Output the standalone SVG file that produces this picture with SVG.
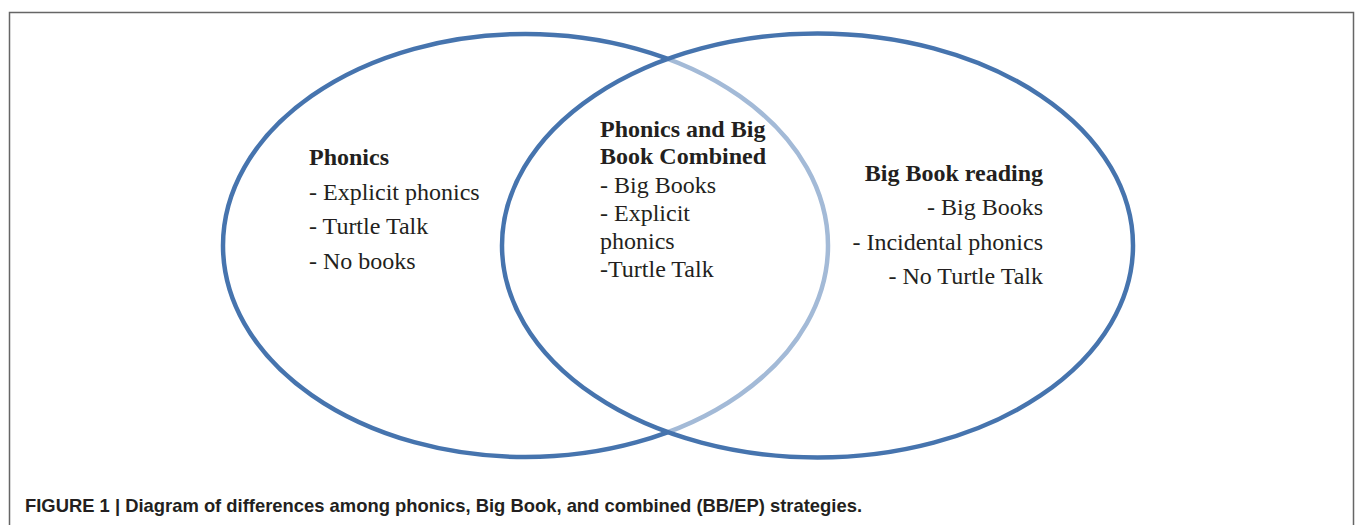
<svg xmlns="http://www.w3.org/2000/svg" width="1355" height="525" viewBox="0 0 1355 525">
<style>
.ring{stroke:#4674ae;stroke-width:4.5}
.t{font-family:"Liberation Serif","Times New Roman",serif;font-size:24px;fill:#231f20}
.b{font-weight:bold}
.cap{font-family:"Liberation Sans Narrow","Liberation Sans",Arial,sans-serif;font-size:19px;font-weight:bold;fill:#231f20}
</style>
<rect width="1355" height="525" fill="#fff"/>
<path d="M9.5,530 V12.5 H1353.5 V530" fill="none" stroke="#666" stroke-width="1.5"/>
<g id="phonics">
<ellipse class="ring" cx="525.5" cy="245.5" rx="302.5" ry="211.5" fill="none"/>
<text class="t b" x="309" y="165">Phonics</text>
<text class="t" x="309" y="200">- Explicit phonics</text>
<text class="t" x="309" y="234">- Turtle Talk</text>
<text class="t" x="309" y="269">- No books</text>
</g>
<g id="bigbook">
<ellipse class="ring" cx="817.5" cy="245.5" rx="315.5" ry="212" fill="#fff" fill-opacity="0.5"/>
<text class="t b" x="1043" y="181" text-anchor="end">Big Book reading</text>
<text class="t" x="1043" y="215" text-anchor="end">- Big Books</text>
<text class="t" x="1043" y="250" text-anchor="end">- Incidental phonics</text>
<text class="t" x="1043" y="284" text-anchor="end">- No Turtle Talk</text>
</g>
<g id="combined">
<text class="t b" x="600" y="137">Phonics and Big</text>
<text class="t b" x="600" y="164">Book Combined</text>
<text class="t" x="600" y="193">- Big Books</text>
<text class="t" x="600" y="221">- Explicit</text>
<text class="t" x="600" y="249">phonics</text>
<text class="t" x="600" y="277">-Turtle Talk</text>
</g>
<g id="connectors"></g>
<text class="cap" x="25" y="512" textLength="837" lengthAdjust="spacingAndGlyphs">FIGURE 1 | Diagram of differences among phonics, Big Book, and combined (BB/EP) strategies.</text>
</svg>
